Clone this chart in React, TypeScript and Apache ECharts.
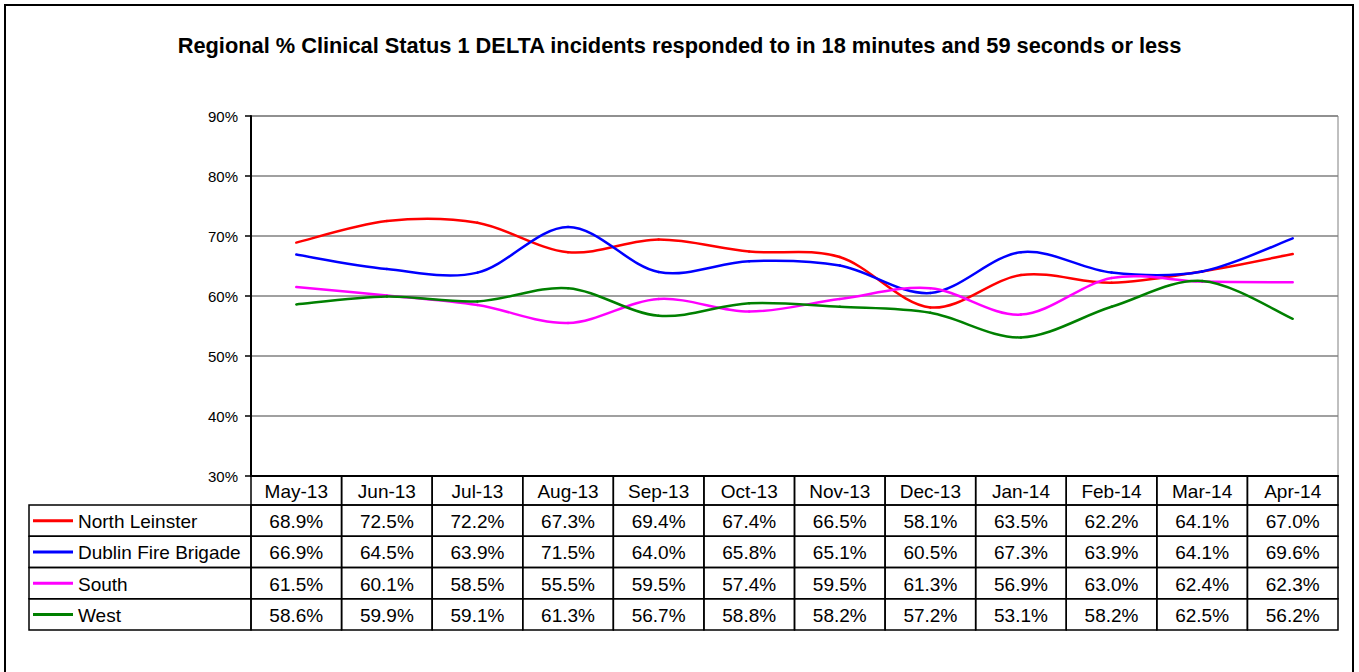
import React, { useEffect, useRef } from "react";
import * as echarts from "echarts";

const title = "Regional % Clinical Status 1 DELTA incidents responded to in 18 minutes and 59 seconds or less";
const categories = ["May-13", "Jun-13", "Jul-13", "Aug-13", "Sep-13", "Oct-13", "Nov-13", "Dec-13", "Jan-14", "Feb-14", "Mar-14", "Apr-14"];
const seriesNames = ["North Leinster", "Dublin Fire Brigade", "South", "West"];
const northLeinster = [68.9, 72.5, 72.2, 67.3, 69.4, 67.4, 66.5, 58.1, 63.5, 62.2, 64.1, 67.0];
const dublinFireBrigade = [66.9, 64.5, 63.9, 71.5, 64.0, 65.8, 65.1, 60.5, 67.3, 63.9, 64.1, 69.6];
const south = [61.5, 60.1, 58.5, 55.5, 59.5, 57.4, 59.5, 61.3, 56.9, 63.0, 62.4, 62.3];
const west = [58.6, 59.9, 59.1, 61.3, 56.7, 58.8, 58.2, 57.2, 53.1, 58.2, 62.5, 56.2];
const seriesColors = ["#FF0000", "#0000FF", "#FF00FF", "#008000"];
const yMin = 30;
const yMax = 90;
const yInterval = 10;

const W = 1359;
const H = 672;
const PL = 251;
const PR = 1338;
const PT = 116;
const PB = 476;
const HEADER_H = 29;
const ROW_H = 31.25;
const TABLE_LEFT = 29;
const FONT = "'Liberation Sans', Arial, sans-serif";
const TABLE_FONT = `19px ${FONT}`;

export default function App() {
  const ref = useRef<HTMLDivElement>(null);
  useEffect(() => {
    if (!ref.current) return;
    const chart = echarts.init(ref.current, undefined, { renderer: "svg" });
    const allData = [northLeinster, dublinFireBrigade, south, west];
    const colW = (PR - PL) / categories.length;
    const graphics: any[] = [];
    graphics.push({
      type: "rect",
      shape: { x: 5, y: 5, width: 1348, height: 680 },
      style: { fill: "none", stroke: "#000", lineWidth: 2 },
      silent: true,
    });
    categories.forEach((c, i) => {
      const x = PL + i * colW;
      graphics.push({
        type: "rect",
        shape: { x, y: PB, width: colW, height: HEADER_H },
        style: { fill: "none", stroke: "#000", lineWidth: 1.5 },
      });
      graphics.push({
        type: "text",
        x: x + colW / 2,
        y: PB + HEADER_H / 2 + 1,
        style: { text: c, fill: "#000", font: TABLE_FONT, align: "center", verticalAlign: "middle" },
      });
    });
    allData.forEach((arr, r) => {
      const y = PB + HEADER_H + r * ROW_H;
      graphics.push({
        type: "rect",
        shape: { x: TABLE_LEFT, y, width: PL - TABLE_LEFT, height: ROW_H },
        style: { fill: "none", stroke: "#000", lineWidth: 1.5 },
      });
      graphics.push({
        type: "line",
        shape: { x1: 33, y1: y + ROW_H / 2, x2: 73, y2: y + ROW_H / 2 },
        style: { stroke: seriesColors[r], lineWidth: 3 },
      });
      graphics.push({
        type: "text",
        x: 78,
        y: y + ROW_H / 2 + 1,
        style: { text: seriesNames[r], fill: "#000", font: TABLE_FONT, align: "left", verticalAlign: "middle" },
      });
      arr.forEach((v, i) => {
        const x = PL + i * colW;
        graphics.push({
          type: "rect",
          shape: { x, y, width: colW, height: ROW_H },
          style: { fill: "none", stroke: "#000", lineWidth: 1.5 },
        });
        graphics.push({
          type: "text",
          x: x + colW / 2,
          y: y + ROW_H / 2 + 1,
          style: { text: v.toFixed(1) + "%", fill: "#000", font: TABLE_FONT, align: "center", verticalAlign: "middle" },
        });
      });
    });

    const makeSmoothSeries = (arr: number[], idx: number) => ({
      name: seriesNames[idx],
      type: "custom",
      data: arr.map((v, i) => [i, v]),
      encode: { x: 0, y: 1 },
      renderItem: (params: any, api: any) => {
        const i = params.dataIndex;
        if (i >= arr.length - 1) return null;
        const p0 = api.coord([Math.max(i - 1, 0), arr[Math.max(i - 1, 0)]]);
        const p1 = api.coord([i, arr[i]]);
        const p2 = api.coord([i + 1, arr[i + 1]]);
        const j = Math.min(i + 2, arr.length - 1);
        const p3 = api.coord([j, arr[j]]);
        return {
          type: "bezierCurve",
          shape: {
            x1: p1[0],
            y1: p1[1],
            cpx1: p1[0] + (p2[0] - p0[0]) / 6,
            cpy1: p1[1] + (p2[1] - p0[1]) / 6,
            cpx2: p2[0] - (p3[0] - p1[0]) / 6,
            cpy2: p2[1] - (p3[1] - p1[1]) / 6,
            x2: p2[0],
            y2: p2[1],
          },
          style: { fill: "none", stroke: seriesColors[idx], lineWidth: 2.5, lineCap: "round" },
        };
      },
    });

    chart.setOption({
      animation: false,
      backgroundColor: "#fff",
      title: {
        text: title,
        left: "center",
        top: 29,
        textStyle: { fontFamily: FONT, fontSize: 21.8, fontWeight: "bold", color: "#000" },
      },
      grid: {
        left: PL,
        top: PT,
        right: W - PR,
        bottom: H - PB,
        show: true,
        borderColor: "#808080",
        borderWidth: 1,
        backgroundColor: "transparent",
      },
      xAxis: {
        type: "category",
        data: categories,
        boundaryGap: true,
        axisLine: { show: true, lineStyle: { color: "#000", width: 2 } },
        axisTick: { show: false },
        axisLabel: { show: false },
        splitLine: { show: false },
      },
      yAxis: {
        type: "value",
        min: yMin,
        max: yMax,
        interval: yInterval,
        axisLine: { show: true, lineStyle: { color: "#000", width: 2 } },
        axisTick: { show: true, inside: false, length: 6, lineStyle: { color: "#000", width: 1.5 } },
        axisLabel: {
          formatter: (v: number) => v + "%",
          fontFamily: FONT,
          fontSize: 15,
          color: "#000",
          margin: 13,
        },
        splitLine: { show: true, lineStyle: { color: "#808080", width: 1.5 } },
      },
      series: [northLeinster, dublinFireBrigade, south, west].map((arr, i) => makeSmoothSeries(arr, i)),
      graphic: graphics,
    });
    return () => chart.dispose();
  }, []);
  return <div ref={ref} style={{ position: "absolute", left: 0, top: 0, width: W, height: H }} />;
}
